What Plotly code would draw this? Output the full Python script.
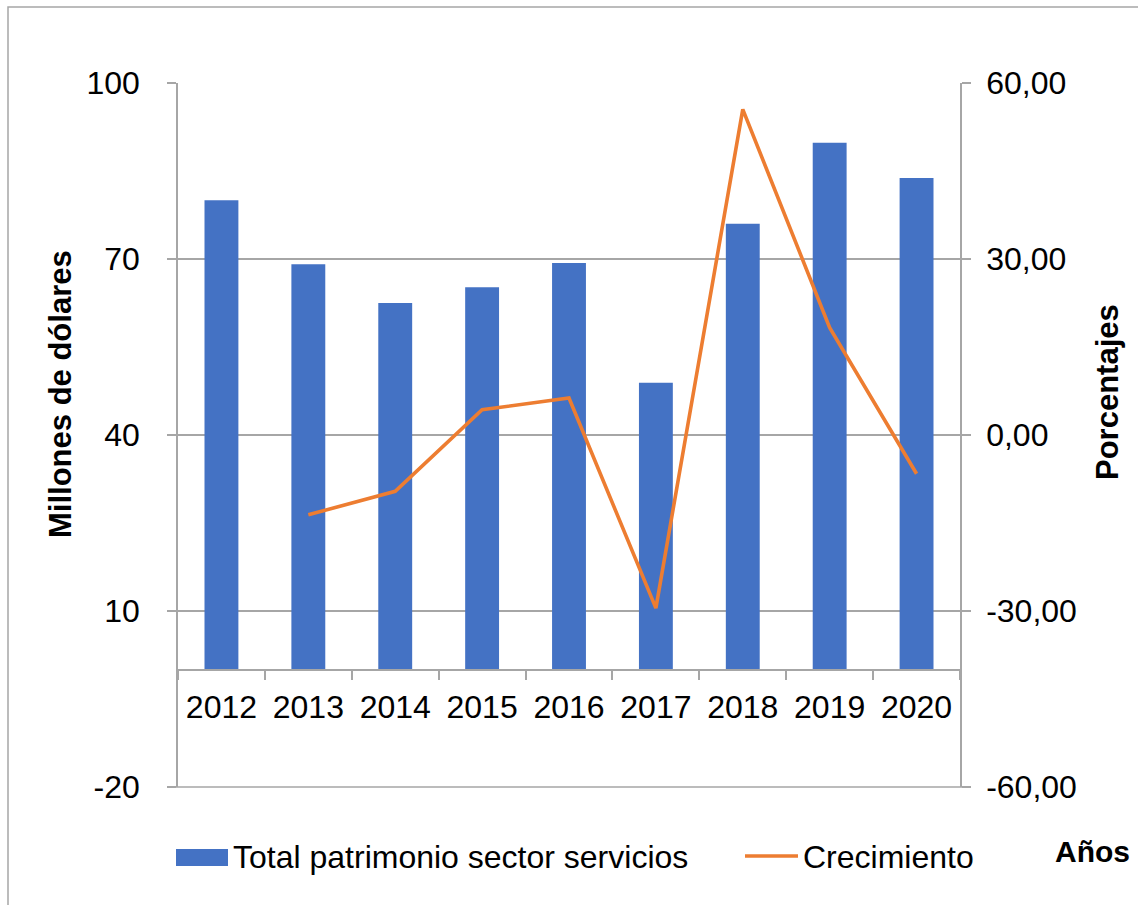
import plotly.graph_objects as go

# Datos
anios = ["2012", "2013", "2014", "2015", "2016", "2017", "2018", "2019", "2020"]
patrimonio = [80.0, 69.1, 62.5, 65.2, 69.3, 48.9, 76.0, 89.8, 83.8]  # millones de dólares
crecimiento = [None, -13.6, -9.6, 4.3, 6.3, -29.5, 55.5, 18.3, -6.6]  # porcentajes

ticks_izq = [-20, 10, 40, 70, 100]
ticks_izq_txt = ["-20", "10", "40", "70", "100"]
ticks_der = [-60, -30, 0, 30, 60]
ticks_der_txt = ["-60,00", "-30,00", "0,00", "30,00", "60,00"]

AZUL = "#4472C4"
NARANJA = "#ED7D31"
GRIS = "#A6A6A6"
FUENTE = "Liberation Sans, Arial, sans-serif"

W, H = 1138, 905
L, R, T, B = 178, 960, 83, 787  # área de trazado en píxeles


def px(x):
    return (x - L) / (R - L)


def py(y):
    return (B - y) / (B - T)


fig = go.Figure()

fig.add_trace(go.Bar(
    x=anios, y=patrimonio, name="Total patrimonio sector servicios",
    marker=dict(color=AZUL, line=dict(width=0)), width=0.39,
    yaxis="y", showlegend=False,
))

fig.add_trace(go.Scatter(
    x=anios, y=crecimiento, name="Crecimiento", mode="lines",
    line=dict(color=NARANJA, width=3.6), yaxis="y2", showlegend=False,
    connectgaps=False,
))

fig.update_layout(
    width=W, height=H,
    margin=dict(l=L, r=W - R, t=T, b=H - B, pad=0),
    paper_bgcolor="white", plot_bgcolor="white",
    font=dict(family=FUENTE, color="black", size=31),
    xaxis=dict(
        type="category", anchor="free", position=20 / 120,
        showline=True, linecolor=GRIS, linewidth=1.5,
        ticks="outside", tickson="boundaries", ticklen=10, tickcolor=GRIS, tickwidth=1.5,
        tickfont=dict(size=32), ticklabelstandoff=9,
        showgrid=False, zeroline=False,
    ),
    yaxis=dict(
        range=[-20, 100], tickvals=ticks_izq, ticktext=ticks_izq_txt,
        showline=True, linecolor=GRIS, linewidth=1.5,
        ticks="outside", ticklen=9, tickcolor=GRIS, tickwidth=1.5,
        showgrid=True, gridcolor=GRIS, gridwidth=1.5,
        zeroline=False, tickfont=dict(size=32), ticklabelstandoff=21,
    ),
    yaxis2=dict(
        range=[-60, 60], tickvals=ticks_der, ticktext=ticks_der_txt,
        overlaying="y", side="right",
        showline=True, linecolor=GRIS, linewidth=1.5,
        ticks="outside", ticklen=9, tickcolor=GRIS, tickwidth=1.5,
        showgrid=False, zeroline=False, tickfont=dict(size=32), ticklabelstandoff=9,
    ),
    bargap=0.61,
)

shapes = [
    # marco exterior del gráfico
    dict(type="rect", xref="paper", yref="paper",
         x0=px(8), x1=px(1400), y0=py(1200), y1=py(7),
         line=dict(color=GRIS, width=1.5), fillcolor="rgba(0,0,0,0)", layer="below"),
    # línea inferior en -20
    dict(type="line", xref="paper", yref="paper",
         x0=px(169), x1=px(968), y0=0, y1=0,
         line=dict(color=GRIS, width=1.5)),
    # leyenda: barra
    dict(type="rect", xref="paper", yref="paper",
         x0=px(176), x1=px(228), y0=py(866), y1=py(849),
         line=dict(width=0), fillcolor=AZUL),
    # leyenda: línea
    dict(type="line", xref="paper", yref="paper",
         x0=px(745), x1=px(798), y0=py(856), y1=py(856),
         line=dict(color=NARANJA, width=3.6)),
]

annotations = [
    dict(text="<b>Millones de dólares</b>", xref="paper", yref="paper",
         x=px(60), y=py(394), textangle=-90, showarrow=False,
         xanchor="center", yanchor="middle", font=dict(size=31)),
    dict(text="<b>Porcentajes</b>", xref="paper", yref="paper",
         x=px(1107), y=py(392), textangle=-90, showarrow=False,
         xanchor="center", yanchor="middle", font=dict(size=31)),
    dict(text="<b>Años</b>", xref="paper", yref="paper",
         x=px(1092), y=py(851), showarrow=False,
         xanchor="center", yanchor="middle", font=dict(size=30)),
    dict(text="Total patrimonio sector servicios", xref="paper", yref="paper",
         x=px(231), y=py(857), showarrow=False,
         xanchor="left", yanchor="middle", font=dict(size=32)),
    dict(text="Crecimiento", xref="paper", yref="paper",
         x=px(801), y=py(857), showarrow=False,
         xanchor="left", yanchor="middle", font=dict(size=32)),
]

fig.update_layout(shapes=shapes, annotations=annotations)

fig.write_html("out.html")
